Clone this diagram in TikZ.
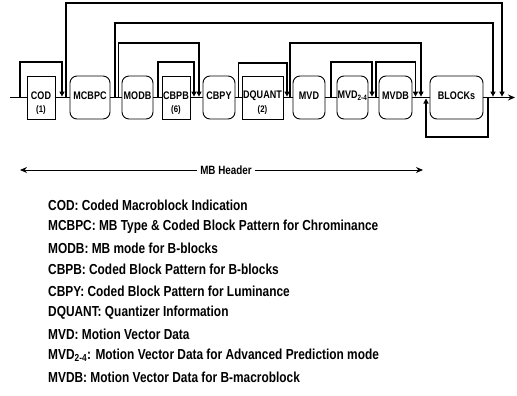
\documentclass[tikz,border=0pt]{standalone}
\usepackage{fontspec}
\setmainfont{Liberation Sans}[FakeStretch=0.82]
\usetikzlibrary{arrows.meta}
\tikzset{
  mainln/.style={line width=1.3pt},
  bypass/.style={line width=1.1pt},
  downtip/.style={-{Triangle[length=5pt,width=5pt]}},
  fixbox/.style={draw, line width=0.9pt, minimum height=43pt, inner sep=0pt, fill=white},
  vlcbox/.style={fixbox, rounded corners=7pt},
  boxtxt/.style={font=\bfseries\fontsize{11}{13}\selectfont, inner sep=0pt},
  numlbl/.style={font=\bfseries\fontsize{9.5}{11}\selectfont, inner sep=0pt},
  legend/.style={anchor=west, inner sep=0pt, font=\bfseries\fontsize{14.5}{16}\selectfont},
}
\begin{document}
\begin{tikzpicture}[x=1pt,y=-1pt]
\useasboundingbox (0,0) rectangle (517,396);
\def\my{97.5}
% boxes
\node[fixbox, minimum width=28pt] (cod) at (41,\my) {};
\node[vlcbox, minimum width=40pt] (mcbpc) at (90,\my) {};
\node[vlcbox, minimum width=31pt] (modb) at (137.5,\my) {};
\node[fixbox, minimum width=28pt] (cbpb) at (176,\my) {};
\node[vlcbox, minimum width=32pt] (cbpy) at (219,\my) {};
\node[fixbox, minimum width=41pt] (dquant) at (262.5,\my) {};
\node[vlcbox, minimum width=32pt] (mvd) at (309,\my) {};
\node[vlcbox, minimum width=31pt] (mvdf) at (352.5,\my) {};
\node[vlcbox, minimum width=33pt] (mvdb) at (395.5,\my) {};
\node[vlcbox, minimum width=53pt] (blocks) at (456.5,\my) {};
% box texts
\node[boxtxt] (tcod) at (41,96) {COD};
\node[numlbl] (ncod) at (41,110) {(1)};
\node[boxtxt] (tmcbpc) at (90,96) {MCBPC};
\node[boxtxt] (tmodb) at (137.5,96) {MODB};
\node[boxtxt] (tcbpb) at (176,96) {CBPB};
\node[numlbl] (ncbpb) at (176,110) {(6)};
\node[boxtxt] (tcbpy) at (219,96) {CBPY};
\node[boxtxt] (tdquant) at (262.5,96) {DQUANT};
\node[numlbl] (ndquant) at (262.5,110) {(2)};
\node[boxtxt] (tmvd) at (309,96) {MVD};
\node[boxtxt] (tmvdf) at (352.5,96) {MVD\textsubscript{2-4}};
\node[boxtxt] (tmvdb) at (395.5,96) {MVDB};
\node[boxtxt] (tblocks) at (456.5,96) {BLOCKs};
% main line
\coordinate (start) at (10,\my);
\coordinate (finish) at (515,\my);
\draw[mainln] (start) -- (cod);
\draw[mainln] (cod) -- (mcbpc);
\draw[mainln] (mcbpc) -- (modb);
\draw[mainln] (modb) -- (cbpb);
\draw[mainln] (cbpb) -- (cbpy);
\draw[mainln] (cbpy) -- (dquant);
\draw[mainln] (dquant) -- (mvd);
\draw[mainln] (mvd) -- (mvdf);
\draw[mainln] (mvdf) -- (mvdb);
\draw[mainln] (mvdb) -- (blocks);
\draw[mainln, -{Stealth[length=7pt,width=6pt]}] (blocks) -- (finish);
% bypass coordinates (start on main line, end tip just above main line)
\def\ty{96.6}
\coordinate (s1) at (20,\my);  \coordinate (e1) at (62,\ty);
\coordinate (s2) at (66,\my);  \coordinate (e2) at (502,\ty);
\coordinate (s3) at (115,\my); \coordinate (e3) at (493,\ty);
\coordinate (s4) at (118.5,\my); \coordinate (e4) at (199,\ty);
\coordinate (s5) at (158,\my); \coordinate (e5) at (194,\ty);
\coordinate (s6) at (238.5,\my); \coordinate (e6) at (287,\ty);
\coordinate (s7) at (290,\my); \coordinate (e7) at (421,\ty);
\coordinate (s8) at (331,\my); \coordinate (e8) at (372,\ty);
\coordinate (s9) at (376,\my); \coordinate (e9) at (415.5,\ty);
\draw[bypass, downtip] (s1) -- (20,62) -- (62,62) -- (e1);
\draw[bypass, downtip] (s2) -- (66,3) -- (502,3) -- (e2);
\draw[bypass, downtip] (s3) -- (115,23) -- (493,23) -- (e3);
\draw[bypass, downtip] (s4) -- (118.5,43) -- (199,43) -- (e4);
\draw[bypass, downtip] (s5) -- (158,62) -- (194,62) -- (e5);
\draw[bypass, downtip] (s6) -- (238.5,63) -- (287,63) -- (e6);
\draw[bypass, downtip] (s7) -- (290,43) -- (421,43) -- (e7);
\draw[bypass, downtip] (s8) -- (331,62) -- (372,62) -- (e8);
\draw[bypass, downtip] (s9) -- (376,62) -- (415.5,62) -- (e9);
% BLOCKS loop
\coordinate (ls) at (488,\my);
\coordinate (le) at (426,98.5);
\draw[bypass, -{Triangle[length=5pt,width=5pt]}] (ls) -- (488,137) -- (426,137) -- (le);
% MB header
\node[font=\bfseries\fontsize{12}{14}\selectfont, inner sep=3pt] (mbh) at (226,170) {MB Header};
\coordinate (hl) at (20,170);
\coordinate (hr) at (423,170);
\draw[line width=1pt, -{Stealth[length=7pt,width=6pt]}] (mbh.west) -- (hl);
\draw[line width=1pt, -{Stealth[length=7pt,width=6pt]}] (mbh.east) -- (hr);
% legend
\node[legend] (l1) at (48,205) {COD: Coded Macroblock Indication};
\node[legend] (l2) at (48,226.5) {MCBPC: MB Type \& Coded Block Pattern for Chrominance};
\node[legend] (l3) at (48,248) {MODB: MB mode for B-blocks};
\node[legend] (l4) at (48,269.5) {CBPB: Coded Block Pattern for B-blocks};
\node[legend] (l5) at (48,291) {CBPY: Coded Block Pattern for Luminance};
\node[legend] (l6) at (48,312.5) {DQUANT: Quantizer Information};
\node[legend] (l7) at (48,334) {MVD: Motion Vector Data};
\node[legend] (l8) at (48,355.5) {MVD\textsubscript{2-4}: Motion Vector Data for Advanced Prediction mode};
\node[legend] (l9) at (48,377) {MVDB: Motion Vector Data for B-macroblock};
\end{tikzpicture}
\end{document}
